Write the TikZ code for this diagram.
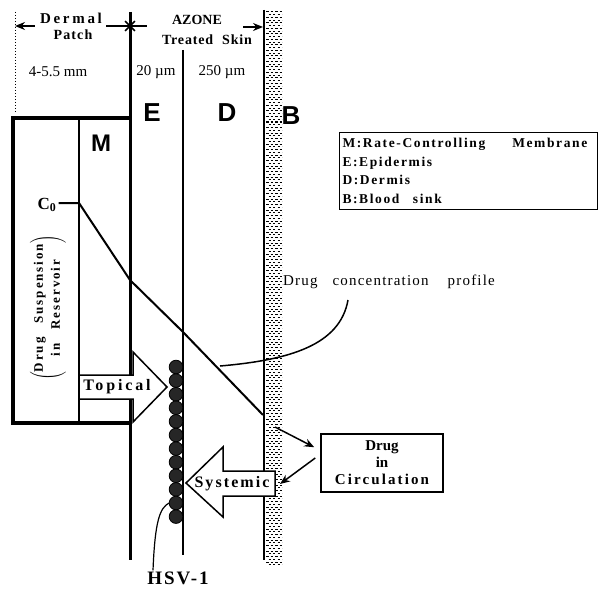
\documentclass[tikz,border=0pt]{standalone}
\usepackage{fontspec}
\setmainfont{Liberation Serif}
\newfontfamily\helv{Liberation Sans}
\usepackage{tikz}
\usetikzlibrary{arrows.meta, positioning}

\begin{document}
\begin{tikzpicture}[x=1pt, y=-1pt, >={Stealth[length=10pt,width=8pt]},
    layer/.style={font=\helv\bfseries\fontsize{26}{26}\selectfont, inner sep=0pt},
    head/.style={font=\bfseries\fontsize{14}{16}\selectfont\addfontfeature{LetterSpace=#1}, inner sep=1pt},
    head/.default=8,
    tag/.style={font=\bfseries\fontsize{16}{18}\selectfont\addfontfeature{LetterSpace=#1}, inner sep=1pt},
    lbl/.style={font=\bfseries\fontsize{13.5}{18.5}\selectfont\addfontfeature{LetterSpace=12}, inner sep=0pt},
    plain/.style={font=\fontsize{15}{17}\selectfont, inner sep=0pt},
    blockarrow/.style={draw, line width=1.5pt, fill=white, line join=miter}]
  \useasboundingbox (0,0) rectangle (599,591);
  \foreach \y in {12,17.5,...,566} \draw[line width=1pt, dash pattern=on 2.5pt off 2pt] (266,\y) -- (282,\y);
  \foreach \y in {14.75,20.25,...,566} \draw[line width=0.8pt, dash pattern=on 2pt off 2.5pt, dash phase=2pt] (266,\y) -- (282,\y);
  \draw[dotted, line width=1pt] (15,12) -- (15,112);
  \draw[line width=3pt] (130,12) -- (130,560);
  \draw[line width=1.5pt] (183,50) -- (183,555);
  \draw[line width=2pt] (264,10) -- (264,560);
  \draw[line width=4pt] (130,118) -- (13,118) -- (13,423) -- (130,423);
  \draw[line width=1.5pt] (79,118) -- (79,423);

  \coordinate (patchL) at (15,26);
  \coordinate (star) at (130,26);
  \coordinate (skinR) at (263,27);
  \node[head=18, font=\bfseries\fontsize{15}{17}\selectfont\addfontfeature{LetterSpace=18}] (dermal) at (71,18) {Dermal};
  \node[head] (patch) at (73,35) {Patch};
  \node[head=0] (azone) at (197,20) {AZONE};
  \node[head=6] (skin) at (207,40) {Treated\hspace{9pt}Skin};
  \draw[->, line width=1.5pt] ([xshift=-4pt]dermal.west |- star) -- (patchL);
  \draw[line width=1.5pt] ([xshift=3pt]dermal.east |- star) -- ([xshift=17pt]star);
  \foreach \a in {0,45,90,135} \draw[line width=1.5pt] (star) ++(\a:7) -- ++(\a+180:14);
  \draw[->, line width=1.5pt] ([xshift=20pt]azone.east |- skinR) -- (skinR);

  \node[plain] (w1) at (58,72) {4-5.5 mm};
  \node[plain] (w2) at (156,72) {20 µm};
  \node[plain] (w3) at (222,72) {250 µm};
  \node[layer] (E) at (152,113) {E};
  \node[layer] (D) at (227,113) {D};
  \node[layer] (B) at (291,116) {B};
  \node[layer, font=\helv\bfseries\fontsize{24}{24}\selectfont] (M) at (101,143) {M};

  \node[lbl, anchor=north west, draw, line width=1pt, text width=252pt, align=left, inner xsep=3pt, inner ysep=6pt] (legend) at (339,132)
    {M:Rate-Controlling\hspace{2em}Membrane\\E:Epidermis\\D:Dermis\\B:Blood\hspace{1em}sink};

  \node[rotate=90, font=\bfseries\fontsize{13}{17}\selectfont\addfontfeature{LetterSpace=15}, inner sep=0pt] (susp) at (48,308)
    {$\left(\mbox{\begin{tabular}{@{}c@{}}Drug\hspace{14pt}Suspension\\in\hspace{14pt}Reservoir\end{tabular}}\right)$};

  \node[font=\bfseries\fontsize{17}{17}\selectfont, inner sep=0pt] (C0) at (47,205) {C\textsubscript{0}};
  \coordinate (c0) at (79,203);
  \coordinate (pm) at (130,280);
  \coordinate (pe) at (183,332);
  \coordinate (pd) at (263,415);
  \draw[line width=2pt] ([xshift=2pt]C0.east |- c0) -- (c0) -- (pm) -- (pe) -- (pd);

  \foreach \i in {0,...,11} \draw[fill=black!85, line width=0.8pt] (176,{367+\i*13.6}) circle (6.8);

  \draw[blockarrow] (79,375) -- (133,375) -- (133,352) -- (167,387) -- (133,422) -- (133,399) -- (79,399) -- cycle;
  \node[tag=18] (topical) at (117,387) {Topical};
  \coordinate (systail) at (275,484);
  \draw[blockarrow] (275,471) -- (223,471) -- (223,447) -- (186,483) -- (223,517) -- (223,496) -- (275,496) -- cycle;
  \node[tag=13] (systemic) at (232,484) {Systemic};

  \node[draw, line width=1.5pt, minimum width=122pt, minimum height=58pt, align=center,
    font=\bfseries\fontsize{15}{17}\selectfont] (circ) at (382,463) {Drug\\in\\{\addfontfeature{LetterSpace=14}Circulation}};
  \coordinate (sink) at (275,427);
  \draw[->, line width=1.5pt] (sink) -- ([xshift=-6pt, yshift=-14pt]circ.north west);
  \draw[->, line width=1.5pt] ([xshift=-5pt, yshift=5pt]circ.west) -- ([xshift=5pt]systail);

  \node[plain, anchor=west, font=\fontsize{15}{17}\selectfont\addfontfeature{LetterSpace=8}] (profile) at (283,282)
    {Drug\hspace{15pt}concentration\hspace{19pt}profile};
  \coordinate (ptail) at (348,300);
  \draw[line width=1.5pt] (ptail) .. controls (340,345) and (290,360) .. (220,366);

  \node[font=\bfseries\fontsize{19}{21}\selectfont\addfontfeature{LetterSpace=10}, inner sep=1pt] (hsv) at (178,578) {HSV-1};
  \draw[line width=1.2pt] ([xshift=-25pt]hsv.north) .. controls (155,520) and (160,508) .. (169,503);
\end{tikzpicture}
\end{document}
